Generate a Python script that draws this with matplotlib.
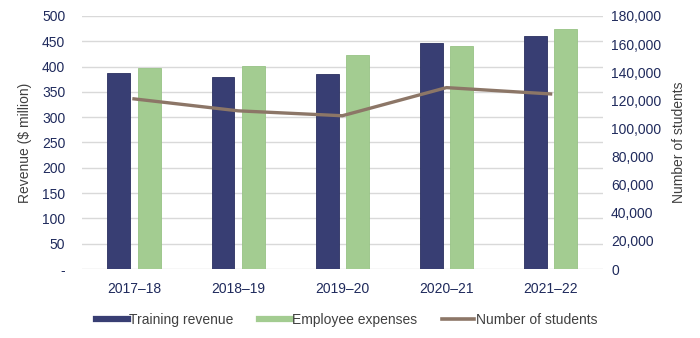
import numpy as np
import matplotlib.pyplot as plt
from matplotlib.lines import Line2D
from matplotlib.ticker import FuncFormatter

plt.rcParams['font.family'] = ['Liberation Sans', 'DejaVu Sans']

years = ["2017–18", "2018–19", "2019–20", "2020–21", "2021–22"]
training_revenue = [387, 379, 385, 447, 460]
employee_expenses = [397, 401, 423, 441, 474]
students = [121000, 112500, 109000, 129000, 124500]

navy = "#383E73"
green = "#A3CC91"
brown = "#8C7667"
tick_col = "#1F2A5C"
label_col = "#404040"

fig = plt.figure(figsize=(7, 3.38), dpi=100)
ax = fig.add_axes([0.117, 0.204, 0.744, 0.749])
ax2 = ax.twinx()

x = np.arange(len(years))
w = 0.22
ax.bar(x - 0.145, training_revenue, w, color=navy, edgecolor="#2A3060", linewidth=0.6, zorder=3)
ax.bar(x + 0.145, employee_expenses, w, color=green, edgecolor="#97C385", linewidth=0.6, zorder=3)
ax2.plot(x, students, color=brown, linewidth=2.4, zorder=4)

ax.set_xlim(-0.5, len(years) - 0.5)
ax.set_ylim(0, 500)
ax.set_yticks(np.arange(0, 501, 50))
ax.yaxis.set_major_formatter(FuncFormatter(lambda v, p: "-" if v == 0 else f"{int(v)}"))
ax2.set_ylim(0, 180000)
ax2.set_yticks(np.arange(0, 180001, 20000))
ax2.yaxis.set_major_formatter(FuncFormatter(lambda v, p: f"{int(v):,}"))

ax.set_xticks(x)
ax.set_xticklabels(years)
ax.grid(axis="y", color="#D9D9D9", linewidth=1, zorder=0)
ax.set_axisbelow(True)

for a in (ax, ax2):
    for s in a.spines.values():
        s.set_visible(False)
    a.tick_params(length=0, labelsize=10, colors=tick_col)
ax.tick_params(axis="y", pad=12)
ax.tick_params(axis="x", pad=9)
ax2.tick_params(axis="y", pad=6)

ax.set_ylabel("Revenue ($ million)", fontsize=10, color=label_col, labelpad=7)
ax2.set_ylabel("Number of students", fontsize=10, color=label_col, labelpad=8)

handles = [
    Line2D([], [], color=navy, linewidth=4.5),
    Line2D([], [], color=green, linewidth=4.5),
    Line2D([], [], color=brown, linewidth=2.6),
]
labels = ["Training revenue", "Employee expenses", "Number of students"]
fig.legend(handles, labels, loc="center", bbox_to_anchor=(0.495, 18 / 338), ncol=3,
           frameon=False, fontsize=10, handlelength=2.3, handletextpad=0.1,
           columnspacing=1.8, labelcolor=label_col)

fig.savefig("out.png", dpi=100)
